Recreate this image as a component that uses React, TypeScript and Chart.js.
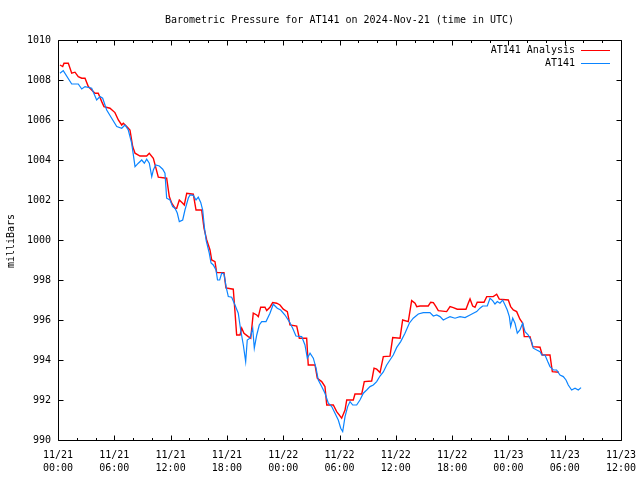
import React, { useEffect, useRef } from "react";
import { Chart, registerables } from "chart.js";

Chart.register(...registerables);

// Hours since 2024-11-21 00:00 UTC
const X_TICK_DATES = ["11/21", "11/21", "11/21", "11/21", "11/22", "11/22", "11/22", "11/22", "11/23", "11/23", "11/23"];
const X_TICK_TIMES = ["00:00", "06:00", "12:00", "18:00", "00:00", "06:00", "12:00", "18:00", "00:00", "06:00", "12:00"];

const ANALYSIS_HOURS = [
  0.21, 0.5, 0.64, 1.1, 1.46, 1.81, 2.16, 2.53, 2.88, 3.23, 3.59, 3.94, 4.29, 4.66, 4.9, 5.54, 6.07, 6.43, 6.79, 6.96,
  7.32, 7.67, 7.96, 8.21, 8.74, 9.45, 9.73, 10.16, 10.69, 11.58, 11.86, 12.12, 12.47, 12.65, 12.93, 13.29, 13.46, 13.72, 14.42, 14.71,
  15.31, 15.56, 15.85, 16.2, 16.38, 16.73, 16.91, 17.69, 17.9, 18.68, 18.86, 19.04, 19.4, 19.58, 19.82, 20.28, 20.54, 20.81, 21.18, 21.35,
  21.6, 22.06, 22.24, 22.59, 22.88, 23.31, 23.66, 24.01, 24.44, 24.72, 25.44, 25.72, 26.5, 26.67, 27.39, 27.63, 28.1, 28.45, 28.64, 29.34,
  29.7, 30.23, 30.59, 30.77, 31.47, 31.65, 32.37, 32.64, 33.43, 33.68, 33.96, 34.32, 34.67, 35.38, 35.67, 36.45, 36.73, 37.33, 37.69, 38.05,
  38.23, 38.58, 39.46, 39.72, 40.0, 40.28, 40.53, 41.42, 41.78, 42.13, 42.55, 43.48, 43.72, 43.91, 44.19, 44.44, 44.68, 45.4, 45.69, 46.39,
  46.75, 47.03, 47.99, 48.24, 48.52, 48.88, 49.23, 49.52, 49.69, 50.3, 50.59, 51.37, 51.61, 52.43, 52.68, 53.39,
];
const ANALYSIS_MB = [
  1008.75, 1008.67, 1008.84, 1008.84, 1008.34, 1008.39, 1008.17, 1008.09, 1008.09, 1007.67, 1007.5, 1007.34, 1007.34, 1006.92, 1006.67, 1006.59, 1006.37, 1006.0, 1005.75, 1005.84,
  1005.67, 1005.5, 1004.67, 1004.34, 1004.2, 1004.2, 1004.34, 1004.09, 1003.14, 1003.09, 1002.17, 1001.84, 1001.59, 1001.59, 1002.0, 1001.84, 1001.75, 1002.34, 1002.29, 1001.5,
  1001.5, 1000.59, 1000.0, 999.5, 999.0, 998.92, 998.37, 998.37, 997.6, 997.54, 996.42, 995.25, 995.25, 995.59, 995.34, 995.17, 995.09, 996.34, 996.25, 996.17,
  996.64, 996.64, 996.47, 996.64, 996.87, 996.84, 996.75, 996.54, 996.42, 995.75, 995.7, 995.09, 995.09, 993.75, 993.75, 993.09, 992.92, 992.67, 991.75, 991.75,
  991.42, 991.09, 991.5, 992.0, 992.0, 992.3, 992.3, 992.92, 992.95, 993.59, 993.54, 993.37, 994.17, 994.19, 995.12, 995.09, 996.0, 995.92, 996.97, 996.84,
  996.67, 996.7, 996.7, 996.89, 996.87, 996.67, 996.47, 996.42, 996.67, 996.62, 996.54, 996.54, 996.84, 997.05, 996.7, 996.64, 996.89, 996.89, 997.17, 997.17,
  997.29, 997.04, 997.0, 996.67, 996.5, 996.42, 996.04, 995.84, 995.17, 995.17, 994.67, 994.64, 994.25, 994.25, 993.42, 993.39,
];

const OBS_HOURS = [
  0.21, 0.56, 1.46, 2.16, 2.53, 2.88, 3.59, 4.12, 4.48, 4.76, 5.19, 5.72, 6.26, 6.79, 7.14, 7.49, 7.85, 8.21, 8.56, 8.92,
  9.2, 9.45, 9.73, 9.99, 10.16, 10.41, 10.8, 11.16, 11.4, 11.58, 11.94, 12.22, 12.47, 12.71, 12.93, 13.29, 13.53, 13.89, 14.07, 14.42,
  14.71, 14.95, 15.21, 15.42, 15.61, 15.8, 16.12, 16.31, 16.55, 16.84, 17.0, 17.23, 17.45, 17.69, 17.94, 18.15, 18.51, 18.86, 19.21, 19.47,
  19.75, 20.0, 20.17, 20.46, 20.75, 20.92, 21.18, 21.45, 21.71, 22.17, 22.59, 22.94, 23.37, 23.73, 24.19, 24.65, 25.01, 25.36, 25.97, 26.32,
  26.57, 26.86, 27.21, 27.5, 27.74, 28.1, 28.45, 28.81, 29.17, 29.52, 29.87, 30.13, 30.34, 30.59, 30.87, 31.12, 31.41, 31.83, 32.18, 32.54,
  32.9, 33.25, 33.6, 33.96, 34.32, 34.67, 35.03, 35.38, 35.73, 36.1, 36.52, 36.98, 37.44, 37.86, 38.4, 38.93, 39.64, 40.0, 40.36, 40.71,
  41.06, 41.42, 41.78, 42.31, 42.84, 43.38, 43.91, 44.26, 44.62, 44.97, 45.26, 45.75, 46.04, 46.32, 46.57, 46.82, 47.1, 47.39, 47.64, 47.88,
  48.1, 48.24, 48.46, 48.7, 48.95, 49.23, 49.52, 49.77, 50.12, 50.48, 50.65, 51.02, 51.37, 51.55, 51.9, 52.19, 52.43, 52.79, 53.14, 53.5,
  53.85, 54.14, 54.38, 54.74, 55.1, 55.45, 55.74,
];
const OBS_MB = [
  1008.34, 1008.47, 1007.8, 1007.8, 1007.55, 1007.67, 1007.59, 1007.0, 1007.17, 1007.09, 1006.5, 1006.09, 1005.67, 1005.59, 1005.75, 1005.5, 1004.84, 1003.67, 1003.84, 1004.0,
  1003.84, 1004.04, 1003.84, 1003.17, 1003.5, 1003.75, 1003.7, 1003.54, 1003.34, 1002.09, 1002.0, 1001.67, 1001.59, 1001.35, 1000.92, 1001.0, 1001.5, 1002.1, 1002.25, 1002.23,
  1002.0, 1002.14, 1001.88, 1001.5, 1000.59, 999.95, 999.34, 998.85, 998.75, 998.5, 998.0, 998.0, 998.35, 998.3, 997.6, 997.17, 997.14, 996.75, 996.34, 995.5,
  994.75, 993.92, 995.0, 995.09, 995.59, 994.59, 995.25, 995.75, 995.92, 995.92, 996.34, 996.79, 996.59, 996.5, 996.25, 995.92, 995.59, 995.2, 995.17, 994.75,
  994.09, 994.34, 994.09, 993.59, 993.0, 992.67, 992.34, 991.84, 991.67, 991.34, 991.0, 990.59, 990.42, 991.17, 991.67, 991.92, 991.75, 991.75, 992.0, 992.34,
  992.5, 992.67, 992.75, 992.92, 993.2, 993.4, 993.75, 994.0, 994.25, 994.63, 994.92, 995.34, 995.84, 996.09, 996.3, 996.37, 996.37, 996.2, 996.25, 996.17,
  996.0, 996.09, 996.17, 996.09, 996.17, 996.12, 996.25, 996.34, 996.42, 996.59, 996.7, 996.7, 997.09, 996.97, 996.8, 996.92, 996.84, 997.0, 996.75, 996.5,
  996.17, 995.67, 996.09, 995.84, 995.34, 995.5, 995.84, 995.42, 995.25, 994.92, 994.59, 994.5, 994.42, 994.25, 994.25, 993.92, 993.67, 993.5, 993.5, 993.25,
  993.17, 993.0, 992.75, 992.5, 992.59, 992.5, 992.62,
];

const SERIES_NAMES = ["AT141 Analysis", "AT141"];
const SERIES_COLORS = ["#ff0000", "#0a84ff"];
const TITLE = "Barometric Pressure for AT141 on 2024-Nov-21 (time in UTC)";
const Y_TITLE = "milliBars";

const FONT = "'DejaVu Sans Mono', 'Liberation Mono', monospace";

const framePlugin = {
  id: "gnuplotFrame",
  afterDatasetsDraw(chart: any) {
    const { ctx, chartArea } = chart;
    const xs = chart.scales.x;
    const ys = chart.scales.y;
    const L = Math.round(chartArea.left) + 0.5;
    const R = Math.round(chartArea.right) + 0.5;
    const T = Math.round(chartArea.top) + 0.5;
    const B = Math.round(chartArea.bottom) + 0.5;
    ctx.save();
    ctx.strokeStyle = "#000";
    ctx.lineWidth = 1;
    ctx.beginPath();
    ctx.rect(L, T, R - L, B - T);
    // x ticks (major every 6h, minor every 2h)
    for (let h = xs.min; h <= xs.max; h += 2) {
      const px = Math.round(xs.getPixelForValue(h)) + 0.5;
      const len = h % 6 === 0 ? 5 : 2.5;
      ctx.moveTo(px, B);
      ctx.lineTo(px, B - len);
      ctx.moveTo(px, T);
      ctx.lineTo(px, T + len);
    }
    for (let v = ys.min; v <= ys.max; v += 2) {
      const py = Math.round(ys.getPixelForValue(v)) + 0.5;
      ctx.moveTo(L, py);
      ctx.lineTo(L + 5, py);
      ctx.moveTo(R, py);
      ctx.lineTo(R - 5, py);
    }
    ctx.stroke();

    // title
    ctx.fillStyle = "#000";
    ctx.font = "10px " + FONT;
    ctx.textAlign = "center";
    ctx.textBaseline = "middle";
    ctx.fillText(TITLE, (chartArea.left + chartArea.right) / 2, 20);

    // y title
    ctx.save();
    ctx.translate(11, 241);
    ctx.rotate(-Math.PI / 2);
    ctx.fillText(Y_TITLE, 0, 0);
    ctx.restore();

    // legend
    ctx.textAlign = "right";
    SERIES_NAMES.forEach((name, i) => {
      const y = 50 + i * 13;
      ctx.fillStyle = "#000";
      ctx.fillText(name, 575, y);
      ctx.strokeStyle = SERIES_COLORS[i];
      ctx.lineWidth = 1;
      ctx.beginPath();
      ctx.moveTo(581, Math.round(y) + 0.5);
      ctx.lineTo(610, Math.round(y) + 0.5);
      ctx.stroke();
    });
    ctx.restore();
  },
};

export default function App() {
  const canvasRef = useRef<HTMLCanvasElement | null>(null);

  useEffect(() => {
    const canvas = canvasRef.current;
    if (!canvas) return;
    const toPoints = (hs: number[], vs: number[]) => hs.map((h, i) => ({ x: h, y: vs[i] }));
    const chart = new Chart(canvas, {
      type: "line",
      data: {
        datasets: [
          {
            label: SERIES_NAMES[0],
            data: toPoints(ANALYSIS_HOURS, ANALYSIS_MB),
            borderColor: SERIES_COLORS[0],
            borderWidth: 1.4,
            pointRadius: 0,
            tension: 0,
            fill: false,
            order: 1,
          },
          {
            label: SERIES_NAMES[1],
            data: toPoints(OBS_HOURS, OBS_MB),
            borderColor: SERIES_COLORS[1],
            borderWidth: 1.2,
            pointRadius: 0,
            tension: 0,
            fill: false,
            order: 0,
          },
        ],
      },
      options: {
        animation: false,
        responsive: false,
        events: [],
        layout: { padding: { top: 40, right: 19, left: 0, bottom: 0 } },
        plugins: {
          legend: { display: false },
          title: { display: false },
          tooltip: { enabled: false },
        },
        scales: {
          x: {
            type: "linear",
            min: 0,
            max: 60,
            grid: { display: false, drawTicks: false },
            border: { display: false },
            ticks: {
              stepSize: 6,
              autoSkip: false,
              maxRotation: 0,
              padding: 9,
              color: "#000",
              font: { family: FONT, size: 10, lineHeight: 1.3 },
              callback: (v: any) => {
                const i = Math.round(Number(v) / 6);
                return [X_TICK_DATES[i], X_TICK_TIMES[i]];
              },
            },
            afterFit: (s: any) => {
              s.height = 40;
              s.paddingLeft = 0;
              s.paddingRight = 0;
            },
          },
          y: {
            type: "linear",
            min: 990,
            max: 1010,
            grid: { display: false, drawTicks: false },
            border: { display: false },
            ticks: {
              stepSize: 2,
              padding: 7,
              color: "#000",
              font: { family: FONT, size: 10 },
              callback: (v: any) => String(v),
            },
            afterFit: (s: any) => {
              s.width = 58;
              s.paddingTop = 0;
              s.paddingBottom = 0;
            },
          },
        },
      },
      plugins: [framePlugin],
    });
    return () => chart.destroy();
  }, []);

  return (
    <div style={{ position: "fixed", left: 0, top: 0, width: 640, height: 480, background: "#fff" }}>
      <canvas ref={canvasRef} width={640} height={480} style={{ display: "block" }} />
    </div>
  );
}
